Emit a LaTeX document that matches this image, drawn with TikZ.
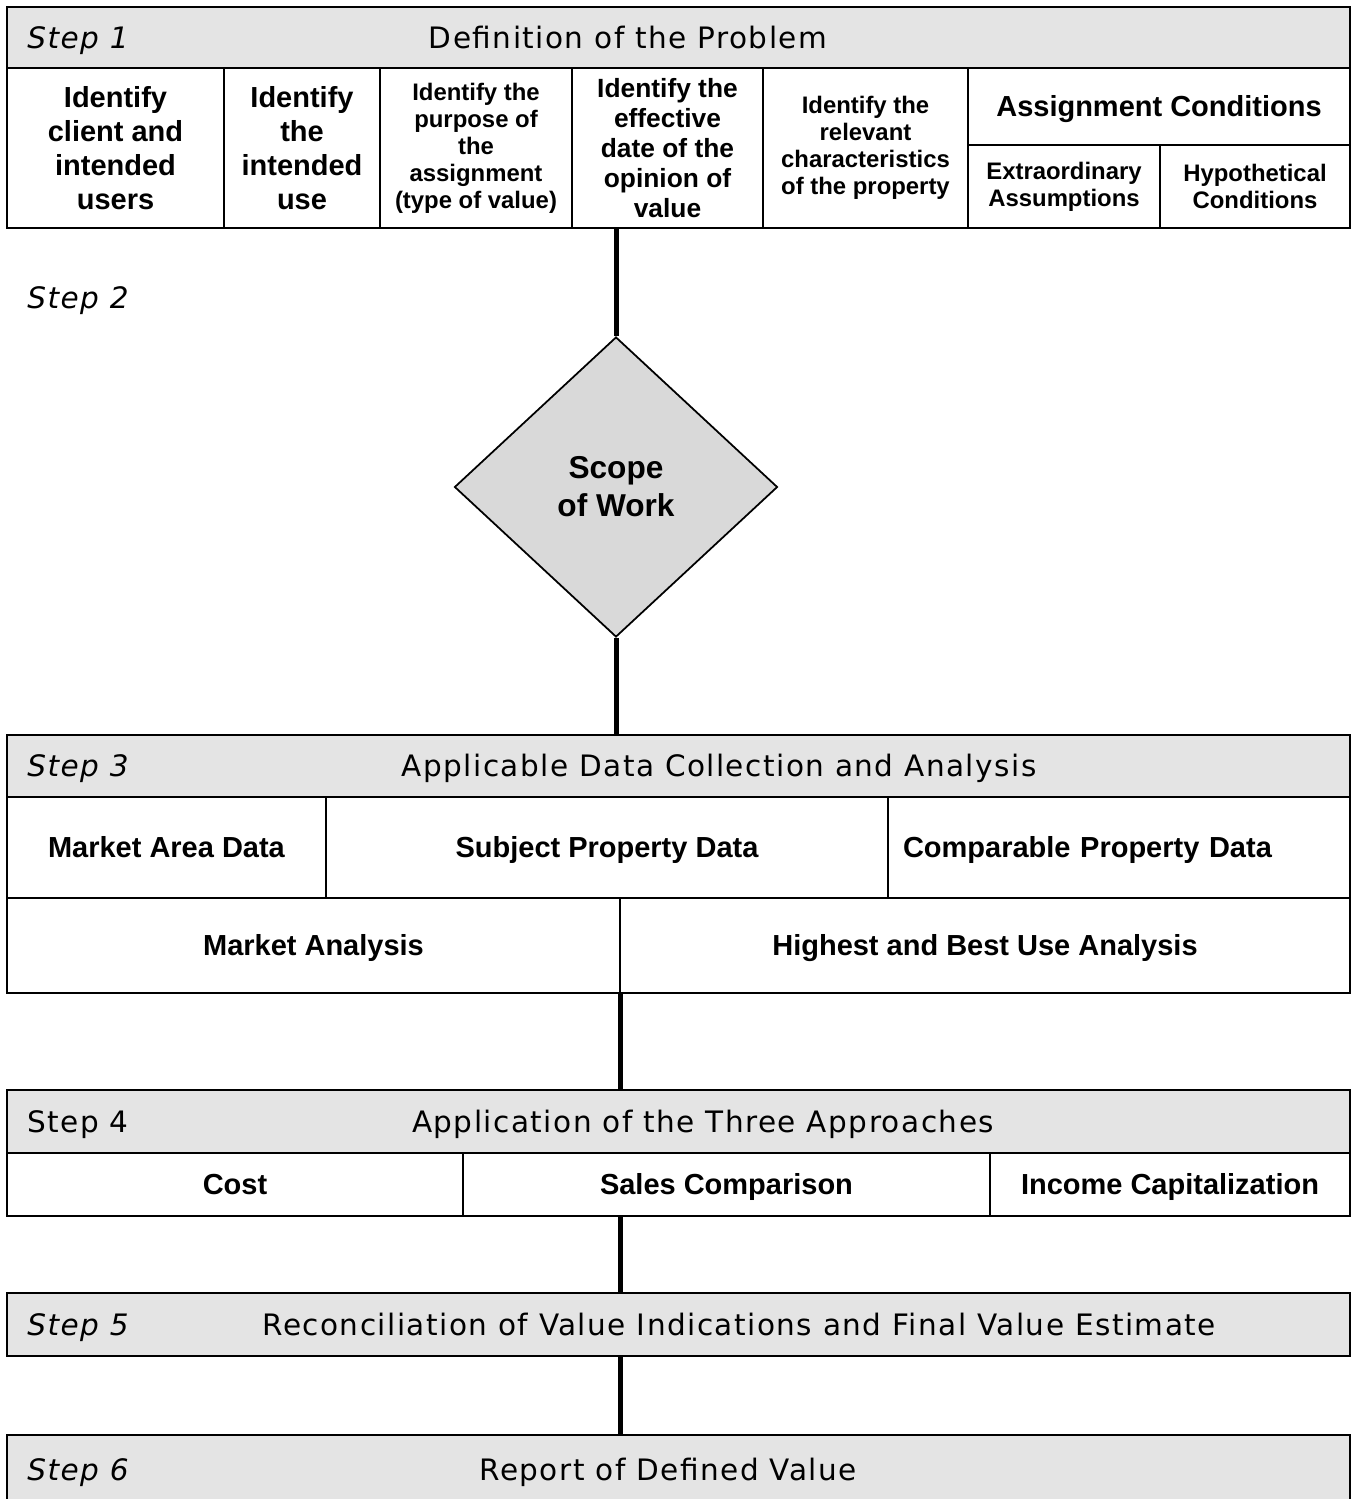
\documentclass[tikz,border=0pt]{standalone}
\usepackage{fontspec}
\setmainfont{Liberation Sans}
\newfontfamily\headfont[LetterSpace=5]{DejaVu Sans}
\usetikzlibrary{shapes.geometric, calc}

\newcommand{\pxl}{0.02cm}
\definecolor{headgray}{HTML}{E4E4E4}
\definecolor{diagray}{HTML}{D9D9D9}

\tikzset{
    cell/.style={draw, line width=1.1pt, fill=white, inner sep=0pt, align=center,
        font=\bfseries\fontsize{16.5}{19.3}\selectfont},
    cellsmall/.style={cell, font=\bfseries\fontsize{13.6}{15.4}\selectfont},
    cellmid/.style={cell, font=\bfseries\fontsize{15}{17}\selectfont},
    onerow/.style={text height=11.8pt, text depth=0pt},
    headbar/.style={draw, line width=1.1pt, fill=headgray, inner sep=0pt},
    steptag/.style={anchor=west, inner sep=0pt, text height=12.2pt, text depth=0pt,
        font=\headfont\itshape\fontsize{16.8}{20}\selectfont},
    steptitle/.style={inner sep=0pt, text height=12.2pt, text depth=0pt,
        font=\headfont\fontsize{16.8}{20}\selectfont},
    joiner/.style={line width=2.85pt}
}

\begin{document}
\begin{tikzpicture}[x=0.02cm, y=-0.02cm]
        \useasboundingbox (0,0) rectangle (1351,1499);
        \clip (0,0) rectangle (1351,1499);

        % step 1
        \node[headbar, minimum width=1343*\pxl, minimum height=61*\pxl] (hd1) at (678.5,37.5) {};
        \node[steptag] (s1) at (27,37.5) {Step 1};
        \node[steptitle] (t1) at (628,37.5) {Definition of the Problem};
        \node[cell, minimum width=217*\pxl, minimum height=160*\pxl] (client) at (115.5,148) {Identify\\client and\\intended\\users};
        \node[cell, minimum width=156*\pxl, minimum height=160*\pxl] (use) at (302,148) {Identify\\the\\intended\\use};
        \node[cellsmall, minimum width=192*\pxl, minimum height=160*\pxl] (purpose) at (476,148) {Identify the\\purpose of\\the\\assignment\\(type of value)};
        \node[cellmid, minimum width=191*\pxl, minimum height=160*\pxl] (date) at (667.5,148) {Identify the\\effective\\date of the\\opinion of\\value};
        \node[cellsmall, minimum width=205*\pxl, minimum height=160*\pxl] (traits) at (865.5,148) {Identify the\\relevant\\characteristics\\of the property};
        \node[cell, onerow, minimum width=382*\pxl, minimum height=77*\pxl] (cond) at (1159,106.5) {Assignment Conditions};
        \node[cellsmall, minimum width=192*\pxl, minimum height=83*\pxl] (extra) at (1064,186.5) {Extraordinary\\Assumptions};
        \node[cellsmall, minimum width=190*\pxl, minimum height=83*\pxl] (hypo) at (1255,186.5) {Hypothetical\\Conditions};

        % step 2
        \node[steptag] (s2) at (27,298) {Step 2};
        \node[diamond, draw, line width=1pt, fill=diagray, inner sep=0pt, aspect=1.08,
              minimum width=323*\pxl, minimum height=300*\pxl, align=center,
              font=\bfseries\fontsize{18}{21.6}\selectfont] (scope) at (616,487) {Scope\\of Work};

        % step 3
        \node[headbar, minimum width=1343*\pxl, minimum height=62*\pxl] (hd3) at (678.5,766) {};
        \node[steptag] (s3) at (27,766) {Step 3};
        \node[steptitle] (t3) at (719,766) {Applicable Data Collection and Analysis};
        \node[cell, onerow, minimum width=319*\pxl, minimum height=101*\pxl] (area) at (166.5,847.5) {Market Area Data};
        \node[cell, onerow, minimum width=562*\pxl, minimum height=101*\pxl] (subject) at (607,847.5) {Subject Property Data};
        \node[cell, onerow, minimum width=462*\pxl, minimum height=101*\pxl, text width=432*\pxl, align=left] (comps) at (1119,847.5) {Comparable Property Data};
        \node[cell, onerow, minimum width=613*\pxl, minimum height=95*\pxl] (market) at (313.5,945.5) {Market Analysis};
        \node[cell, onerow, minimum width=730*\pxl, minimum height=95*\pxl] (hbu) at (985,945.5) {Highest and Best Use Analysis};

        % step 4
        \node[headbar, minimum width=1343*\pxl, minimum height=63*\pxl] (hd4) at (678.5,1121.5) {};
        \node[steptag] (s4) at (27,1121.5) {\upshape Step 4};
        \node[steptitle] (t4) at (703,1121.5) {Application of the Three Approaches};
        \node[cell, onerow, minimum width=456*\pxl, minimum height=63*\pxl] (cost) at (235,1184.5) {Cost};
        \node[cell, onerow, minimum width=527*\pxl, minimum height=63*\pxl] (sales) at (726.5,1184.5) {Sales Comparison};
        \node[cell, onerow, minimum width=360*\pxl, minimum height=63*\pxl] (income) at (1170,1184.5) {Income Capitalization};

        % step 5
        \node[headbar, minimum width=1343*\pxl, minimum height=63*\pxl] (hd5) at (678.5,1324.5) {};
        \node[steptag] (s5) at (27,1324.5) {Step 5};
        \node[steptitle] (t5) at (739,1324.5) {Reconciliation of Value Indications and Final Value Estimate};

        % step 6
        \node[headbar, minimum width=1343*\pxl, minimum height=70*\pxl] (hd6) at (678.5,1470) {};
        \node[steptag] (s6) at (27,1470) {Step 6};
        \node[steptitle] (t6) at (668,1470) {Report of Defined Value};

        % links
        \draw[joiner] (scope.north) -- (scope.north |- date.south);
        \draw[joiner] (scope.south) -- (scope.south |- hd3.north);
        \draw[joiner] (market.south east) -- (market.south east |- hd4.north);
        \draw[joiner] (sales.south -| market.east) -- (hd5.north -| market.east);
        \draw[joiner] (hd5.south -| market.east) -- (hd6.north -| market.east);
    \end{tikzpicture}
\end{document}
